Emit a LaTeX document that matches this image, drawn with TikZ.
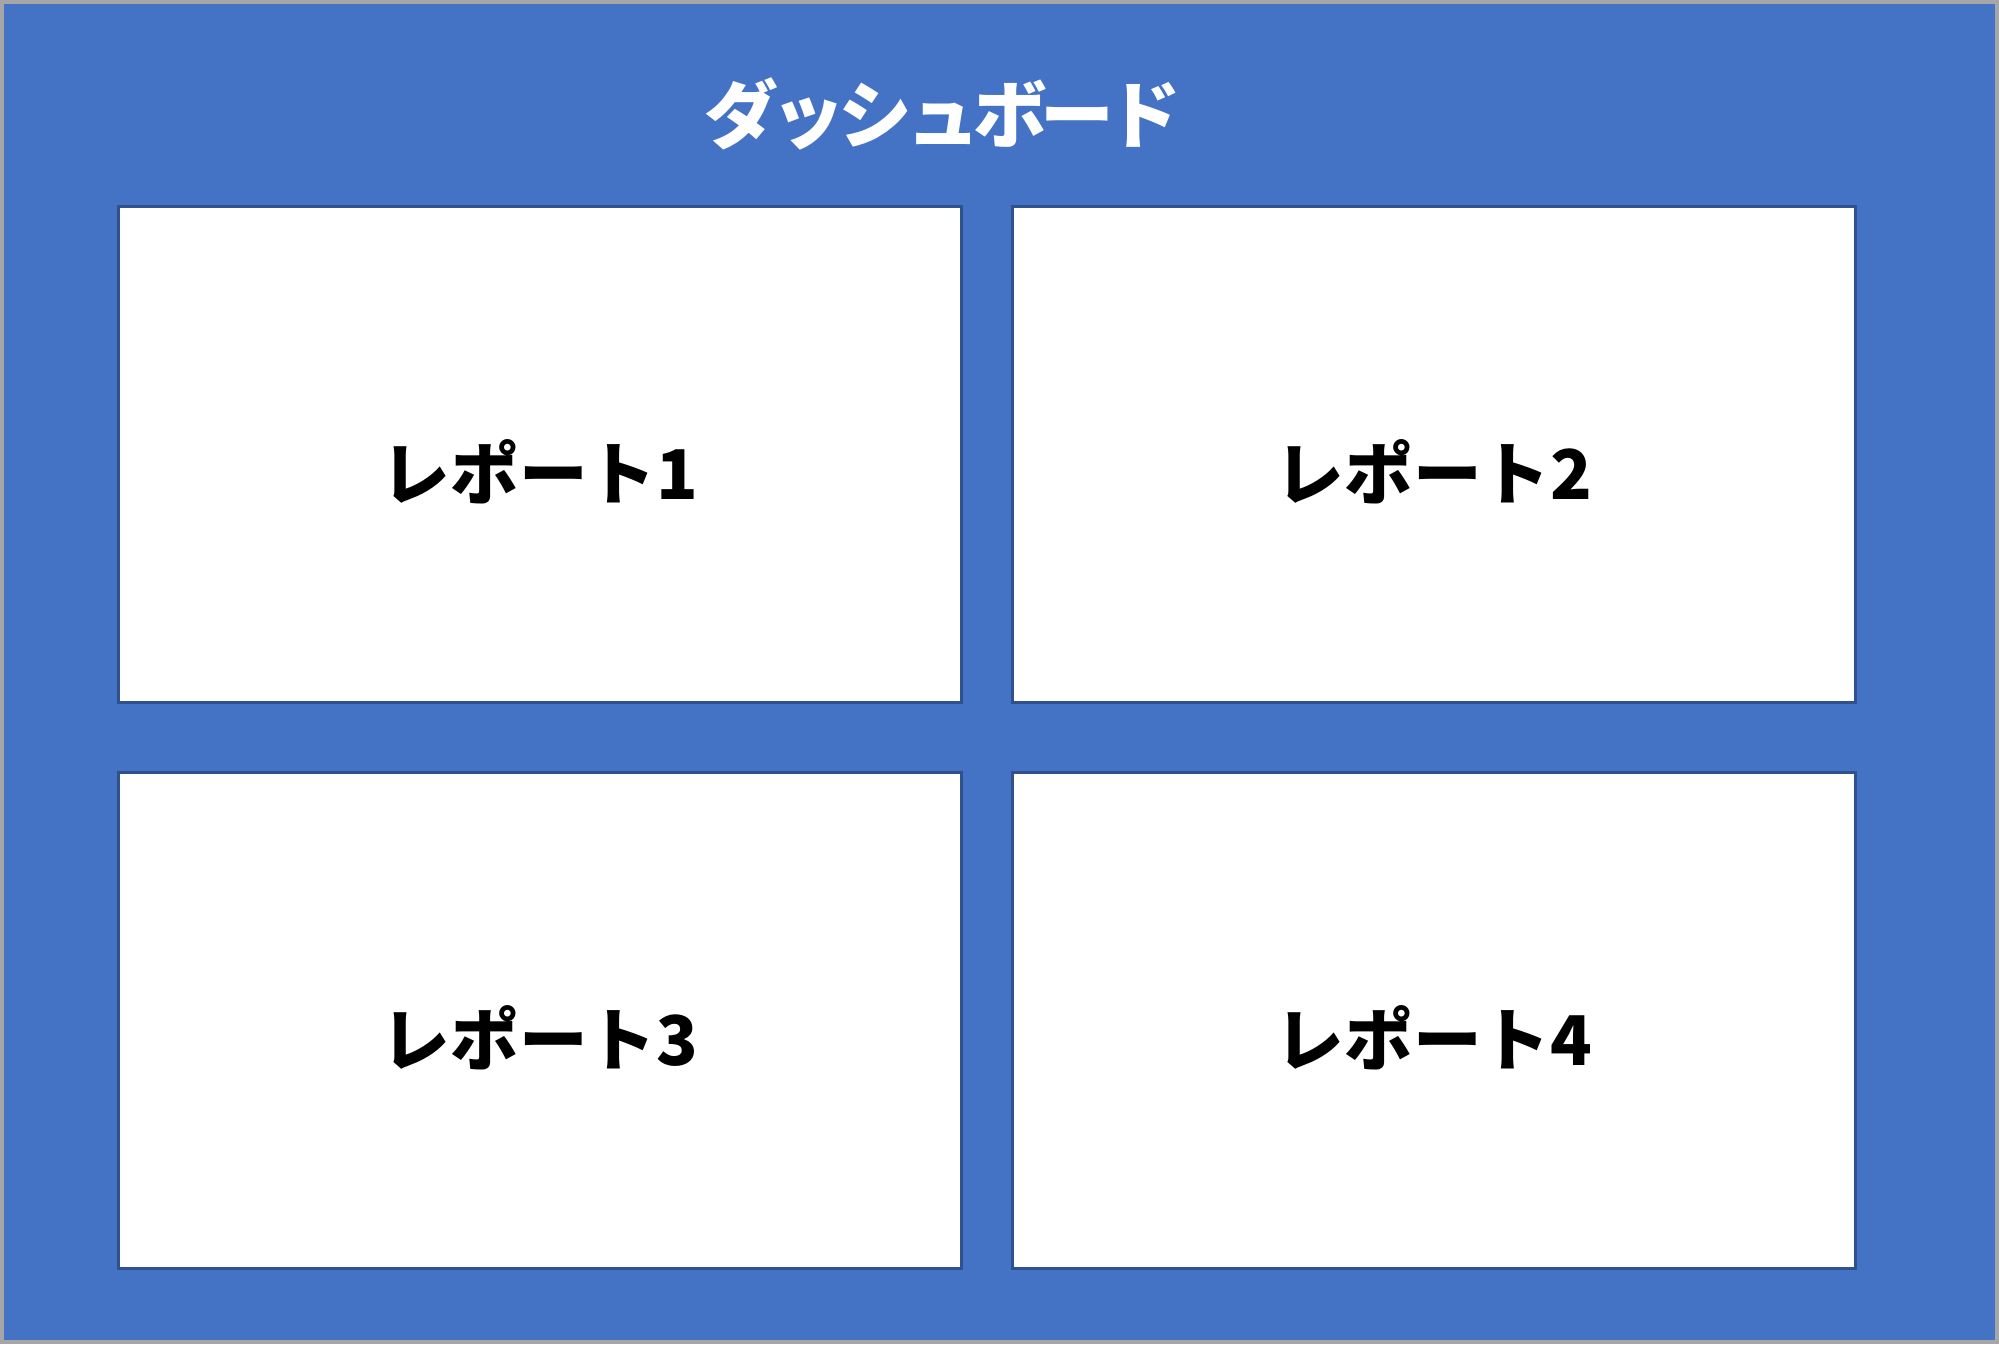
\documentclass[tikz,border=0pt]{standalone}
\usepackage{fontspec}
\newfontfamily\jpfont{Noto Sans CJK JP}
\newfontfamily\jptitlefont{Noto Sans CJK JP}[LetterSpace=-9]
\usepackage{tikz}
\definecolor{dashblue}{HTML}{4472C4}
\definecolor{edgeblue}{HTML}{2F528F}
\definecolor{framegray}{HTML}{A6A6A6}
\begin{document}
\begin{tikzpicture}[x=0.01cm,y=-0.01cm,
    report/.style={draw=edgeblue, line width=0.85pt, fill=white,
      minimum width=8.42cm, minimum height=4.95cm, inner sep=0pt},
    reportlabel/.style={font=\jpfont\bfseries\fontsize{19.5}{22}\selectfont, text=black}]
  \useasboundingbox (0,0) rectangle (1999,1344);
  % background panel
  \fill[dashblue] (0,0) rectangle (1999,1344);
  \draw[framegray, line width=1.2pt] (2,2) rectangle (1997,1342);
  % title
  \node (title) at (943,114) {\jptitlefont\bfseries\fontsize{21}{24}\selectfont\color{white}ダッシュボード};
  % report boxes
  \node[report] (r1) at (540,454.5) {};
  \node[report] (r2) at (1434,454.5) {};
  \node[report] (r3) at (540,1020.5) {};
  \node[report] (r4) at (1434,1020.5) {};
  % labels
  \node[reportlabel, yshift=-0.17cm] (t1) at (r1.center) {レポート1};
  \node[reportlabel, yshift=-0.17cm] (t2) at (r2.center) {レポート2};
  \node[reportlabel, yshift=-0.17cm] (t3) at (r3.center) {レポート3};
  \node[reportlabel, yshift=-0.17cm] (t4) at (r4.center) {レポート4};
\end{tikzpicture}
\end{document}
